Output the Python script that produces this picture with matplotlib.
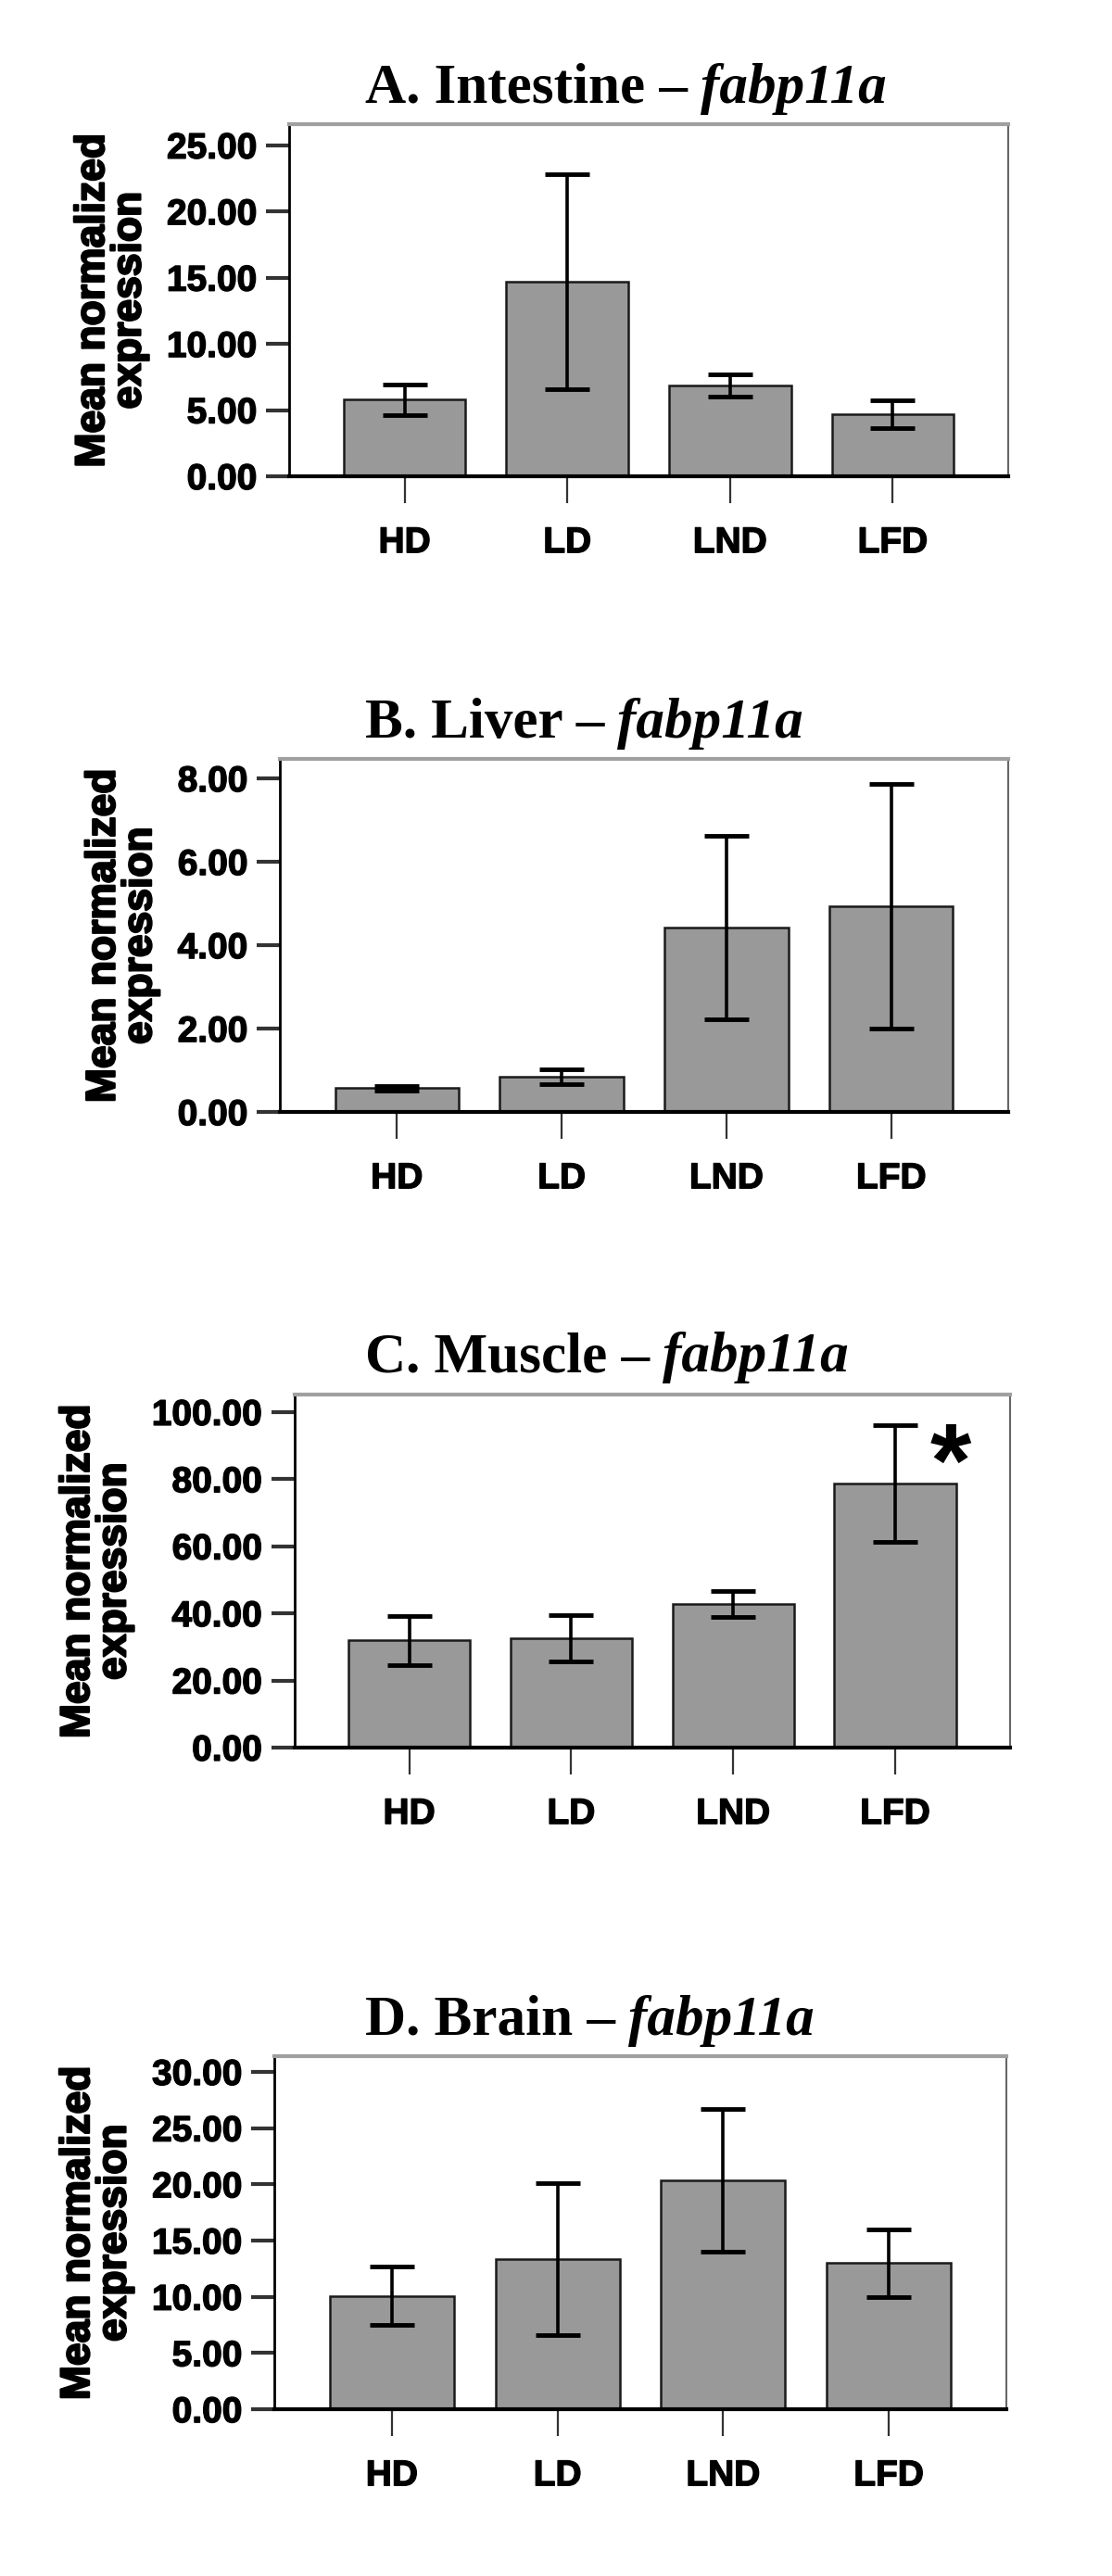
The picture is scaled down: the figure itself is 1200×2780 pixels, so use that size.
import numpy as np
import matplotlib.pyplot as plt
import matplotlib.patheffects as path_effects

plt.rcParams['font.family'] = ['Liberation Sans', 'DejaVu Sans']
plt.rcParams['font.weight'] = 'bold'

# data (mean +/- error)
groups = ['HD', 'LD', 'LND', 'LFD']

intestine_mean = [5.8, 14.7, 6.85, 4.7]
intestine_err = [1.15, 8.1, 0.85, 1.05]
intestine_ticks = [0, 5, 10, 15, 20, 25]

liver_mean = [0.57, 0.84, 4.42, 4.93]
liver_err = [0.05, 0.18, 2.2, 2.93]
liver_ticks = [0, 2, 4, 6, 8]

muscle_mean = [32.0, 32.5, 42.8, 78.7]
muscle_err = [7.3, 6.9, 3.8, 17.4]
muscle_ticks = [0, 20, 40, 60, 80, 100]

brain_mean = [10.1, 13.35, 20.35, 13.0]
brain_err = [2.6, 6.75, 6.35, 3.0]
brain_ticks = [0, 5, 10, 15, 20, 25, 30]

gene = 'fabp11a'

fig = plt.figure(figsize=(12, 27.8), dpi=100)
fig.set_facecolor('white')

# title, means, errors, ticks, ymax, axes rect, title baseline
panels = [
    ('A. Intestine', intestine_mean, intestine_err, intestine_ticks, 26.6,
     [0.260, 0.8151, 0.6467, 0.1367], 0.9601),
    ('B. Liver', liver_mean, liver_err, liver_ticks, 8.47,
     [0.2517, 0.5683, 0.6550, 0.1371], 0.7137),
    ('C. Muscle', muscle_mean, muscle_err, muscle_ticks, 105.2,
     [0.2646, 0.3216, 0.6438, 0.1370], 0.4676),
    ('D. Brain', brain_mean, brain_err, brain_ticks, 31.4,
     [0.2467, 0.0647, 0.6583, 0.1371], 0.2101),
]

renderer = fig.canvas.get_renderer()
x = np.arange(len(groups))
heavy = [path_effects.withStroke(linewidth=1.0, foreground='black')]

for name, means, errs, ticks, ymax, rect, tb in panels:
    ax = fig.add_axes(rect)
    ax.bar(x, means, width=0.75, color='#999999', edgecolor='#1a1a1a',
           linewidth=1.8, zorder=2)
    ax.errorbar(x, means, yerr=errs, fmt='none', ecolor='black',
                elinewidth=2.6, capsize=17, capthick=3.5, zorder=3)
    ax.set_xlim(-0.71, 3.71)
    ax.set_ylim(0, ymax)
    ax.set_xticks(x)
    ax.set_xticklabels(groups)
    ax.set_yticks(ticks)
    ax.set_yticklabels(['%.2f' % t for t in ticks])
    ax.tick_params(axis='y', length=18, width=3, color='#333333', pad=7,
                   labelsize=28)
    ax.tick_params(axis='x', length=21, width=1.6, color='#333333', pad=18,
                   labelsize=28)
    for lbl in ax.get_xticklabels() + ax.get_yticklabels():
        lbl.set_path_effects(heavy)
    ax.spines['left'].set_linewidth(2)
    ax.spines['left'].set_color('black')
    ax.spines['bottom'].set_linewidth(3)
    ax.spines['bottom'].set_color('black')
    ax.spines['top'].set_linewidth(3)
    ax.spines['top'].set_color('#a0a0a0')
    ax.spines['right'].set_linewidth(1.5)
    ax.spines['right'].set_color('#666666')
    yl = ax.set_ylabel('Mean normalized\nexpression', fontsize=32,
                       fontweight='bold', linespacing=0.95, labelpad=14)
    yl.set_path_effects([path_effects.withStroke(linewidth=1.6, foreground='black')])

    # title: plain bold part + bold italic gene name
    t1 = fig.text(0.328, tb, name + ' \u2013', fontfamily='Liberation Serif',
                  fontweight='bold', fontsize=44, va='baseline', ha='left')
    bb = t1.get_window_extent(renderer)
    x2 = (bb.x1 + 14) / fig.bbox.width
    fig.text(x2, tb, gene, fontfamily='Liberation Serif', fontweight='bold',
             fontstyle='italic', fontsize=44, va='baseline', ha='left')

    if name.startswith('C.'):
        # significance marker next to LFD
        ax.text(3.34, 83, '*', fontsize=82, ha='center', va='center',
                fontweight='bold')

fig.savefig('out.png', dpi=100)
